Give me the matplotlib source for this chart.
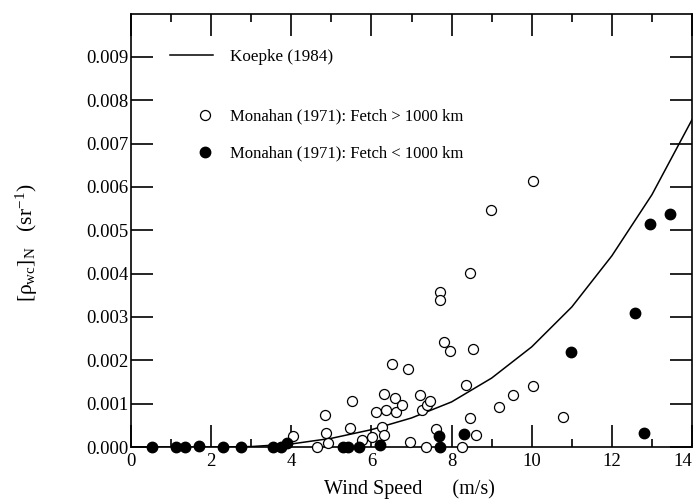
import matplotlib
matplotlib.use('Agg')
import matplotlib.pyplot as plt
from matplotlib.lines import Line2D
from matplotlib.ticker import FormatStrFormatter

plt.rcParams['font.family'] = ['Liberation Serif', 'DejaVu Serif']
plt.rcParams['mathtext.fontset'] = 'custom'
plt.rcParams['mathtext.rm'] = 'Liberation Serif'
plt.rcParams['mathtext.it'] = 'Liberation Serif'

# Koepke (1984) curve (units of 1e-3 sr^-1)
koepke_u = [0, 1, 2, 3, 4, 5, 6, 7, 8, 9, 10, 11, 12, 13, 14]
koepke_r = [0.0, 0.0, 0.0, 0.01, 0.07, 0.2, 0.40, 0.67, 1.04, 1.59, 2.31, 3.23, 4.41, 5.82, 7.55]

# Monahan (1971), fetch > 1000 km (open circles)
open_u = [4.05, 4.65, 4.85, 4.86, 4.91, 5.46, 5.51, 5.76, 6.02, 6.12, 6.26, 6.31,
          6.32, 6.37, 6.52, 6.59, 6.61, 6.77, 6.91, 6.96, 7.22, 7.26, 7.36, 7.38,
          7.47, 7.60, 7.72, 7.72, 7.82, 7.97, 8.27, 8.37, 8.47, 8.47, 8.53, 8.62,
          8.98, 9.18, 9.53, 10.03, 10.03, 10.78]
open_r = [0.25, 0.0, 0.73, 0.33, 0.10, 0.43, 1.07, 0.15, 0.24, 0.80, 0.47, 0.27,
          1.23, 0.85, 1.91, 1.12, 0.80, 0.97, 1.80, 0.11, 1.19, 0.85, 0.0, 0.98,
          1.05, 0.42, 3.57, 3.39, 2.42, 2.22, 0.0, 1.42, 4.01, 0.68, 2.25, 0.28,
          5.47, 0.92, 1.19, 6.13, 1.41, 0.70]

# Monahan (1971), fetch < 1000 km (filled circles)
fill_u = [0.53, 1.12, 1.35, 1.70, 2.30, 2.75, 3.55, 3.74, 3.90, 5.30, 5.42, 5.70,
          6.22, 7.68, 7.72, 8.32, 10.98, 12.59, 12.80, 12.95, 13.45]
fill_r = [0.0, 0.0, 0.0, 0.03, 0.01, 0.0, 0.0, 0.0, 0.09, 0.0, 0.0, 0.0,
          0.04, 0.26, 0.0, 0.29, 2.20, 3.09, 0.33, 5.14, 5.38]

xticks = [0, 2, 4, 6, 8, 10, 12, 14]
xminor = [1, 3, 5, 7, 9, 11, 13]
yticks = [0.000, 0.001, 0.002, 0.003, 0.004, 0.005, 0.006, 0.007, 0.008, 0.009]

scale = 1e-3

fig = plt.figure(figsize=(6.93, 4.99), dpi=100)
ax = fig.add_axes([131 / 693, 1 - 447 / 499, 561 / 693, (447 - 13.5) / 499])

ax.plot(koepke_u, [r * scale for r in koepke_r], color='black', lw=1.1, zorder=2)
ax.plot(open_u, [r * scale for r in open_r], 'o', ms=7.2, mfc='white', mec='black',
        mew=0.9, zorder=3, clip_on=False)
ax.plot(fill_u, [r * scale for r in fill_r], 'o', ms=7.5, mfc='black', mec='black',
        zorder=4, clip_on=False)

ax.set_xlim(0, 14)
ax.set_ylim(0, 0.010)
ax.set_xticks(xticks)
ax.set_xticks(xminor, minor=True)
ax.set_yticks(yticks)
ax.yaxis.set_major_formatter(FormatStrFormatter('%.3f'))

ax.tick_params(axis='x', which='major', direction='in', length=15.5, width=1.2,
               top=True, labelsize=13.5, pad=4)
ax.tick_params(axis='x', which='minor', direction='in', length=6, width=1.2, top=True)
ax.tick_params(axis='y', which='major', direction='in', length=16, width=1.2,
               right=True, labelsize=13.5, pad=2)
for s in ax.spines.values():
    s.set_linewidth(1.2)

# last x label sits against the right edge
ax.get_xticklabels()[-1].set_horizontalalignment('right')

ax.set_xlabel('Wind Speed      (m/s)', fontsize=14.5)
ax.xaxis.set_label_coords(0.497, -0.075)
ax.set_ylabel(r'$[\rho_{\mathrm{wc}}]_{\mathrm{N}}$   (sr$^{-1}$)', fontsize=15.5)
ax.yaxis.set_label_coords(-0.163, 0.47)

leg1 = ax.legend(handles=[Line2D([], [], color='black', lw=1.1)],
                 labels=['Koepke (1984)'], loc='center left',
                 bbox_to_anchor=((170 - 131) / 561, (447 - 57) / 433.5),
                 frameon=False, fontsize=12.3, handlelength=2.5, handletextpad=1.0,
                 borderpad=0, borderaxespad=0)
ax.add_artist(leg1)
ax.legend(handles=[Line2D([], [], ls='none', marker='o', ms=7.2, mfc='white', mec='black', mew=0.9),
                   Line2D([], [], ls='none', marker='o', ms=7.5, mfc='black', mec='black')],
          labels=['Monahan (1971): Fetch > 1000 km', 'Monahan (1971): Fetch < 1000 km'],
          loc='center left', bbox_to_anchor=((197 - 131) / 561, (447 - 135) / 433.5),
          frameon=False, fontsize=12, handlelength=1.0, handletextpad=1.0,
          labelspacing=1.25, borderpad=0, borderaxespad=0)

fig.savefig('out.png', dpi=100)
